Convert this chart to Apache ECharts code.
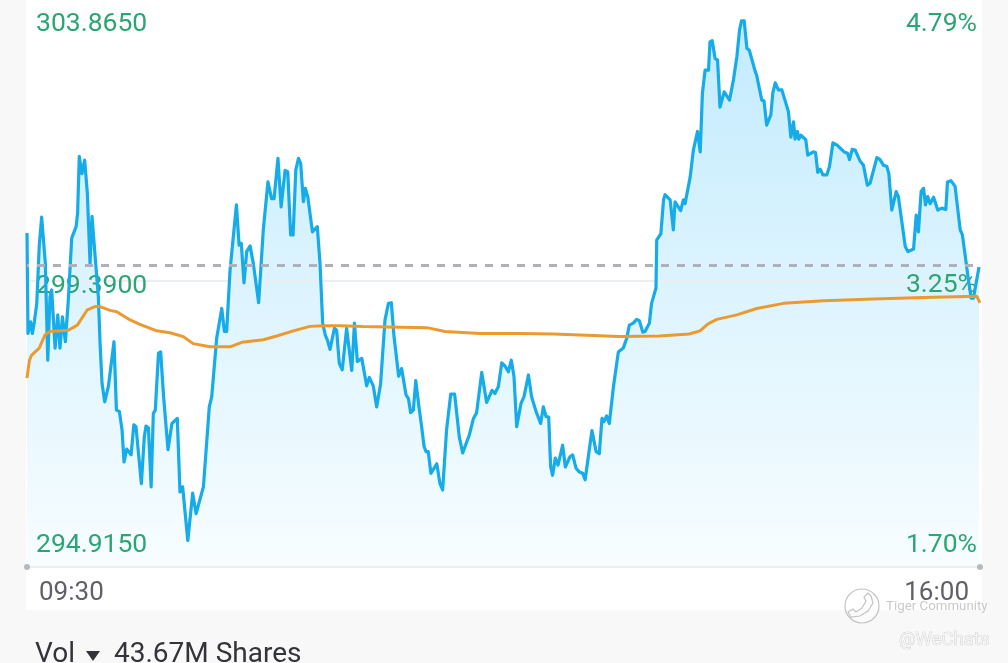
<!DOCTYPE html>
<html><head><meta charset="utf-8">
<style>html,body{margin:0;padding:0;background:#f8f8f8;overflow:hidden}#c{width:1008px;height:663px}</style>
<script src="https://cdn.jsdelivr.net/npm/echarts@6/dist/echarts.min.js"></script>
</head><body><div id="c"></div>
<script>
const minutes=[0,.4,1.5,2.2,3,4,5,6,6.7,7.5,8.5,9.4,10.1,10.8,11.5,12.6,13.5,14.5,15.7,16.9,18.3,20.1,20.7,21.4,22.5,23.6,24.7,25.8,26.6,27.8,29.2,29.9,30.7,31.8,33.3,35.6,36.6,37.8,38.9,39.7,40.8,42.6,43.7,44.6,46.8,48,48.7,49.7,50.8,51.7,52.5,53.8,54.7,55.9,57.7,59.3,61.5,62.6,63.7,65.8,67.8,69.2,70,72.2,74.6,75.6,77.6,79.7,80.8,81.7,83.1,85.7,86.8,87.7,88.8,89.9,91.3,92.6,94.8,96.7,98.6,100.1,101.1,102.7,104,105.6,106.7,107.9,108.9,110,111.1,112,113.1,113.9,114.9,116.8,118.8,119.9,121,122.1,
122.9,124,124.8,125.8,126.7,127.8,129,130.8,132.9,134,135.2,137,139,140.1,141.7,143.1,144.7,146.5,147.9,149.1,150.2,152.1,153.3,155.1,156.1,157,158.1,159.1,160.4,161.5,162.5,163.3,164.2,165.3,167.7,168.3,169,170.1,171.7,173.4,175,176.9,178.3,181,182.7,184,186.1,188.1,190.3,191.5,192.9,194.3,195.6,197,198.2,199.3,200.4,202.2,203.4,205.2,206.5,208.3,210.2,211.3,212.4,213.5,214.3,215.1,216.2,217.3,219.2,220.3,222.2,223.3,224.7,226,227.4,228.4,231.2,232.9,234.2,235.3,236.1,237.2,238.3,240,242,244,245.4,246.5,248.1,249.5,250.6,252,252.9,254.7,255.6,257.4,
257.7,259.4,260.5,261.1,263.2,264.5,265.2,267.5,268.6,269.3,271.4,272.7,274.4,275.5,276.4,277.5,278.9,279.5,280.4,281.6,282.6,283.6,285.3,286.1,287.5,289.1,290.5,291.6,292.4,293.5,294.6,295.6,298,298.6,300.7,301.6,302.7,304.4,305.2,306.2,306.8,307.5,308.9,311.6,312.6,313.7,314.3,315.3,315.8,316.7,318.7,319.5,321.8,322.7,323.6,324.6,325.7,327.3,328.4,329.8,331.4,332.8,334.4,335.8,336.6,337.7,338.9,340.9,342.3,343.9,345,347.8,349.1,350.5,351.9,352.7,353.9,355.7,356.6,359.4,360.5,362.8,363.9,364.8,365.9,366.9,367.7,368.6,369.6,371,372.7,374.4,376,376.7,378.1,379.8,381.9,382.8,385.3,386.4,387.3,389.6];
const prices=[300.14,298.57,298.75,298.57,298.75,299.04,299.93,300.39,300.39,299.67,298.15,299.14,299.25,299.28,298.34,298.86,298.34,298.83,298.44,299.09,300.06,300.24,300.45,301.34,301.07,301.28,300.76,299.67,300.4,299.82,299.14,298.42,297.79,297.5,297.74,298.44,297.37,297.35,297.06,296.56,296.76,296.67,297.14,297.11,296.22,296.95,297.12,297.09,296.17,297.32,297.37,298.26,298.28,297.58,296.75,297.16,297.24,296.09,296.17,295.33,296.07,295.75,295.75,296.17,297.42,297.58,298.49,298.96,298.6,298.6,299.56,300.58,299.95,299.98,299.36,299.85,299.94,299.67,299.05,300.19,300.94,300.68,300.68,301.31,300.55,301.12,301.1,300.11,300.11,301.13,301.31,301.23,300.63,300.84,300.71,300.16,300.24,299.67,298.73,298.54,
298.47,298.32,298.35,298.65,298.62,298.1,298,298.65,297.99,298.73,298.13,298.18,297.75,297.88,297.75,297.42,297.78,298.78,299.04,299.05,298.52,297.9,298.02,297.61,297.55,297.33,297.37,297.83,297.42,297.11,296.8,296.72,296.72,296.38,296.53,296.53,296.22,296.12,297.06,297.62,297.62,296.95,296.7,296.98,297.24,297.33,297.96,297.49,297.68,297.63,297.74,298.11,298.06,297.97,298.15,297.89,297.11,297.48,297.58,297.92,297.58,297.35,297.16,297.42,297.27,297.26,296.48,296.35,296.62,296.51,296.82,296.48,296.64,296.67,296.46,296.4,296.38,296.28,297.05,296.72,296.69,297.24,297.19,297.28,297.16,297.74,298.28,298.34,298.49,298.7,298.73,298.79,298.77,298.59,298.6,298.73,299.04,299.28,
300.03,300.13,300.66,300.74,300.66,300.19,300.63,300.49,300.66,300.6,301.02,301.44,301.73,301.41,302.33,302.69,302.69,303.13,303.15,302.87,302.85,302.11,302.35,302.34,302.22,302.54,302.9,303.32,303.46,303.46,303.03,303,302.67,302.61,302.22,302.21,301.83,301.99,302.33,302.49,302.48,302.38,302.38,302.04,301.64,301.88,301.61,301.73,301.61,301.67,301.6,301.36,301.41,301.4,301.09,301.14,301.05,301.05,301.18,301.55,301.52,301.47,301.41,301.39,301.29,301.45,301.44,301.27,301.2,300.89,300.92,301.32,301.29,301.2,301.18,301.07,300.5,300.79,300.71,299.93,299.85,299.89,300.42,300.16,300.79,300.84,300.58,300.71,300.6,300.7,300.5,300.53,300.51,300.94,300.96,300.87,300.19,300.11,299.4,299.12,299.12,299.61];
const avgMinutes=[0,1,1.9,5,7.4,9.4,16.9,20.6,24.7,27.8,29.9,34,36.7,42.2,46.2,53.1,58.5,63.9,68,74.9,83.1,87.9,96.7,102.2,109,115.8,121.3,128.1,137.6,163.6,171.1,185.4,201.8,215.4,229,242.7,258.8,271,275.4,278.7,282.3,290.5,298.6,309.6,325.9,346.4,366.9,388.7,390];
const avgPrices=[297.87,298.15,298.23,298.34,298.55,298.6,298.62,298.7,298.94,298.99,298.99,298.93,298.91,298.78,298.71,298.61,298.58,298.52,298.41,298.36,298.36,298.43,298.47,298.53,298.61,298.68,298.69,298.69,298.68,298.66,298.6,298.57,298.57,298.56,298.54,298.52,298.53,298.56,298.61,298.72,298.79,298.86,298.96,299.04,299.08,299.11,299.13,299.15,299.05];
const priceTicks=[294.915,299.39,303.865];
const priceLabels=['294.9150','299.3900','303.8650'];
const pctTicks=[1.70,3.25,4.79];
const pctLabels=['1.70%','3.25%','4.79%'];
const timeTicks=[0,390];
const timeLabels=['09:30','16:00'];
const prevClose=299.625;
const GREEN='#2ca574',FONT='Roboto';
const midRich={m:{padding:[3,0,0,0],color:GREEN,fontFamily:FONT,fontSize:26.5}};
const chart=echarts.init(document.getElementById('c'),null,{renderer:'canvas'});
chart.setOption({
 animation:false,
 backgroundColor:'#f8f8f8',
 grid:{left:27,width:953,top:-5,height:572,outerBoundsMode:'none'},
 xAxis:{type:'value',min:0,max:390,z:1,
  axisLine:{show:true,lineStyle:{color:'#e9eef2',width:2}},
  axisTick:{show:false},splitLine:{show:false},
  axisLabel:{customValues:timeTicks,formatter:v=>timeLabels[timeTicks.indexOf(v)],
   alignMinLabel:'left',alignMaxLabel:'right',padding:[0,11,0,12],margin:13,
   color:'#5f6068',fontFamily:FONT,fontSize:26}},
 yAxis:[
  {type:'value',min:priceTicks[0],max:priceTicks[2],position:'left',z:1,
   axisLine:{show:false},axisTick:{show:false,customValues:[priceTicks[1]]},
   splitLine:{show:true,lineStyle:{color:'#eceff1',width:2}},
   axisLabel:{inside:true,customValues:priceTicks,
    formatter:v=>{const i=priceTicks.indexOf(v);return i===1?'{m|'+priceLabels[i]+'}':priceLabels[i];},
    rich:midRich,
    verticalAlignMinLabel:'bottom',verticalAlignMaxLabel:'top',padding:[15.5,0,8,0],margin:9,
    color:GREEN,fontFamily:FONT,fontSize:26.5}},
  {type:'value',min:pctTicks[0],max:pctTicks[2],position:'right',z:1,
   axisLine:{show:false},axisTick:{show:false},splitLine:{show:false},
   axisLabel:{inside:true,customValues:pctTicks,
    formatter:v=>{const i=pctTicks.indexOf(v);return i===1?'{m|'+pctLabels[i]+'}':pctLabels[i];},
    rich:midRich,
    verticalAlignMinLabel:'bottom',verticalAlignMaxLabel:'top',padding:[15.5,0,8,0],margin:3,
    color:GREEN,fontFamily:FONT,fontSize:26.5}}
 ],
 graphic:{elements:[
  {type:'rect',z:-10,silent:true,shape:{x:26,y:0,width:956,height:610},style:{fill:'#fff'}},
  {type:'text',z:10,style:{x:35,y:655,text:'Vol',font:'28px Roboto',fill:'#33343a',textVerticalAlign:'middle'}},
  {type:'polygon',z:10,shape:{points:[[86,651],[100,651],[93,661]]},style:{fill:'#33343a'}},
  {type:'text',z:10,style:{x:114,y:655,text:'43.67M Shares',font:'28px Roboto',fill:'#33343a',textVerticalAlign:'middle'}},
  {type:'circle',z:10,shape:{cx:862,cy:606,r:17},style:{fill:'rgba(255,255,255,0.4)',stroke:'#c4c4c4',lineWidth:1.2}},
  {type:'polyline',z:10,shape:{points:[[871,596],[873,603],[868,611],[860,616],[851,617],[848,612],[853,609],[856,612],[862,608],[866,601],[864,597],[868,593],[871,596]]},style:{fill:'none',stroke:'#c4c4c4',lineWidth:1.2}},
  {type:'text',z:10,style:{x:886,y:607,text:'Tiger Community',font:'13.3px Roboto',fill:'#c9c9c9',textVerticalAlign:'middle'}},
  {type:'text',z:10,style:{x:899,y:640,text:'@WeChats',font:'18.5px Roboto',fill:'#f4f4f4',stroke:'#c8c8c8',lineWidth:0.7,textVerticalAlign:'middle'}}
 ]},
 series:[
  {name:'PriceFill',type:'line',z:0,data:minutes.map((m,i)=>[m,prices[i]]),showSymbol:false,smooth:false,
   lineStyle:{width:0,opacity:0},
   areaStyle:{opacity:1,origin:'start',color:{type:'linear',x:0,y:0,x2:0,y2:1,colorStops:[{offset:0,color:'#c3ebfe'},{offset:.5,color:'#ddf4fe'},{offset:1,color:'#f7fdff'}]}}},
  {name:'Price',type:'line',z:2,data:minutes.map((m,i)=>[m,prices[i]]),showSymbol:false,smooth:false,
   lineStyle:{color:'#16abe9',width:3.2,join:'round'},itemStyle:{color:'#16abe9'},
   markLine:{silent:true,symbol:'none',label:{show:false},animation:false,
    lineStyle:{color:'#b0b0b8',type:[8,8],dashOffset:6,width:3},data:[{yAxis:prevClose}]}},
  {name:'Average',type:'line',z:3,data:avgMinutes.map((m,i)=>[m,avgPrices[i]]),showSymbol:false,smooth:false,
   lineStyle:{color:'#ea9a2f',width:3},itemStyle:{color:'#ea9a2f'}},
  {name:'Ends',type:'scatter',z:3,data:timeTicks.map(t=>[t,priceTicks[0]]),symbolSize:6,clip:false,
   itemStyle:{color:'#a9a9a9'}}
 ]
});
</script></body></html>
